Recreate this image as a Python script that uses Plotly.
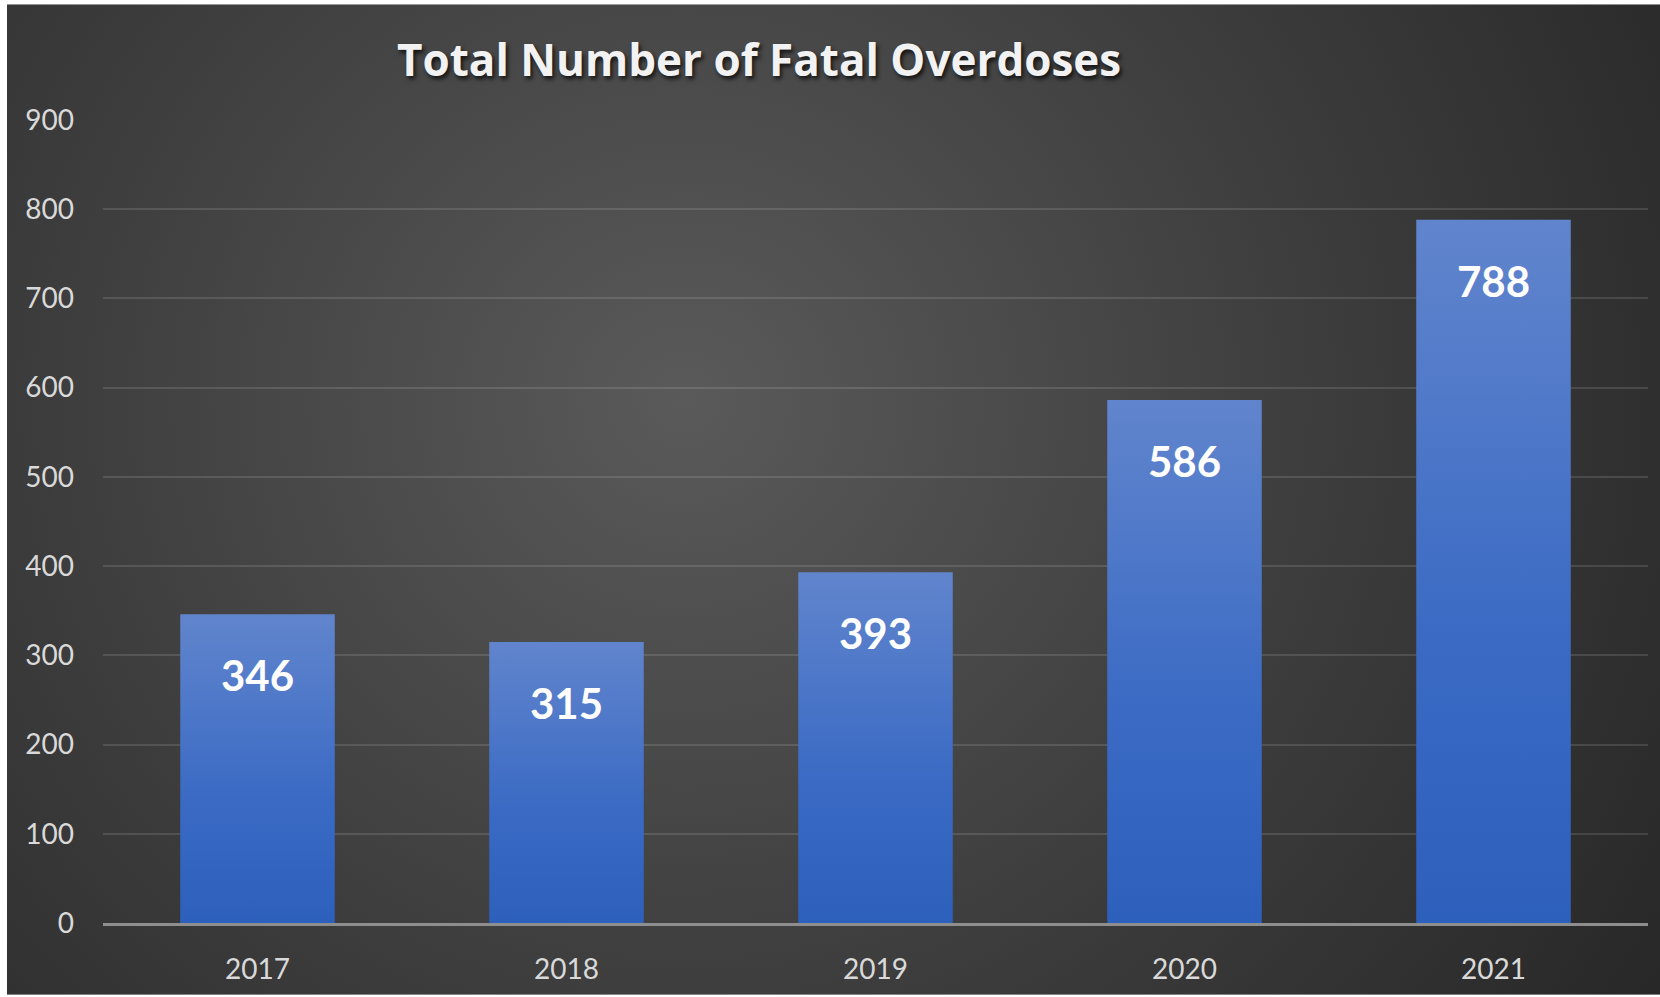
import base64
import plotly.graph_objects as go

# Data
years = ["2017", "2018", "2019", "2020", "2021"]
deaths = [346, 315, 393, 586, 788]
y_ticks = [0, 100, 200, 300, 400, 500, 600, 700, 800, 900]

W, H = 1660, 997
L, R, T, B = 103, 12, 119, 72
plot_w = W - L - R
plot_h = H - T - B

FONT = "Lato"

# Radial dark-grey backdrop as an inline SVG
svg = f"""<svg xmlns='http://www.w3.org/2000/svg' width='{W - 7}' height='{H - 4}'>
<defs><radialGradient id='g' cx='0.41' cy='0.40' r='0.72' gradientUnits='objectBoundingBox'
 gradientTransform='translate(0.41 0.40) scale(1 1.6) translate(-0.41 -0.40)'>
<stop offset='0' stop-color='#5a5a5a'/>
<stop offset='0.55' stop-color='#3c3c3c'/>
<stop offset='1' stop-color='#262626'/>
</radialGradient></defs>
<rect width='100%' height='100%' fill='url(#g)'/></svg>"""
bg_src = "data:image/svg+xml;base64," + base64.b64encode(svg.encode()).decode()

fig = go.Figure()

half = 0.25
for i, v in enumerate(deaths):
    fig.add_trace(go.Scatter(
        x=[i - half, i + half, i + half, i - half, i - half],
        y=[0, 0, v, v, 0],
        mode="lines",
        fill="toself",
        line=dict(width=0, color="rgba(0,0,0,0)"),
        fillgradient=dict(
            type="vertical",
            colorscale=[[0, "#2d60bc"], [0.4, "#3a6ac4"], [1, "#6185cd"]],
        ),
        hoverinfo="skip",
        showlegend=False,
    ))
    fig.add_annotation(
        x=i, y=v, yshift=-61,
        text=f"<b>{v}</b>",
        showarrow=False,
        font=dict(family=FONT, size=42, color="#ffffff"),
    )

# Chart title
fig.add_annotation(
    xref="paper", yref="paper",
    x=(759 - L) / plot_w, y=(H - B - 59) / plot_h,
    xanchor="center", yanchor="middle",
    text="<b>Total Number of Fatal Overdoses</b>",
    showarrow=False,
    font=dict(family="Open Sans", size=44, color="#f2f2f2",
              shadow="2px 3px 4px rgba(0,0,0,0.75)"),
)

fig.add_layout_image(
    source=bg_src,
    xref="paper", yref="paper",
    x=(7 - L) / plot_w, y=(H - B - 4) / plot_h,
    sizex=(W - 7) / plot_w, sizey=(H - 4) / plot_h,
    xanchor="left", yanchor="top",
    sizing="stretch", layer="below",
)

fig.update_layout(
    width=W, height=H,
    margin=dict(l=L, r=R, t=T, b=B),
    paper_bgcolor="#ffffff",
    plot_bgcolor="rgba(0,0,0,0)",
    showlegend=False,
    xaxis=dict(
        range=[-0.5, 4.5],
        tickvals=list(range(len(years))),
        ticktext=years,
        showgrid=False,
        zeroline=False,
        showline=True,
        linecolor="#8e8e8e",
        linewidth=2.5,
        ticks="",
        ticklabelstandoff=20,
        tickfont=dict(family=FONT, size=28, color="#d9d9d9"),
        fixedrange=True,
    ),
    yaxis=dict(
        range=[0, 901],
        tickvals=y_ticks,
        ticktext=[str(t) for t in y_ticks],
        showgrid=True,
        gridcolor="rgba(255,255,255,0.12)",
        gridwidth=1.5,
        zeroline=False,
        showline=False,
        ticks="",
        ticklabelstandoff=28,
        tickfont=dict(family=FONT, size=28, color="#d9d9d9"),
        fixedrange=True,
    ),
)

fig.write_html("out.html")
